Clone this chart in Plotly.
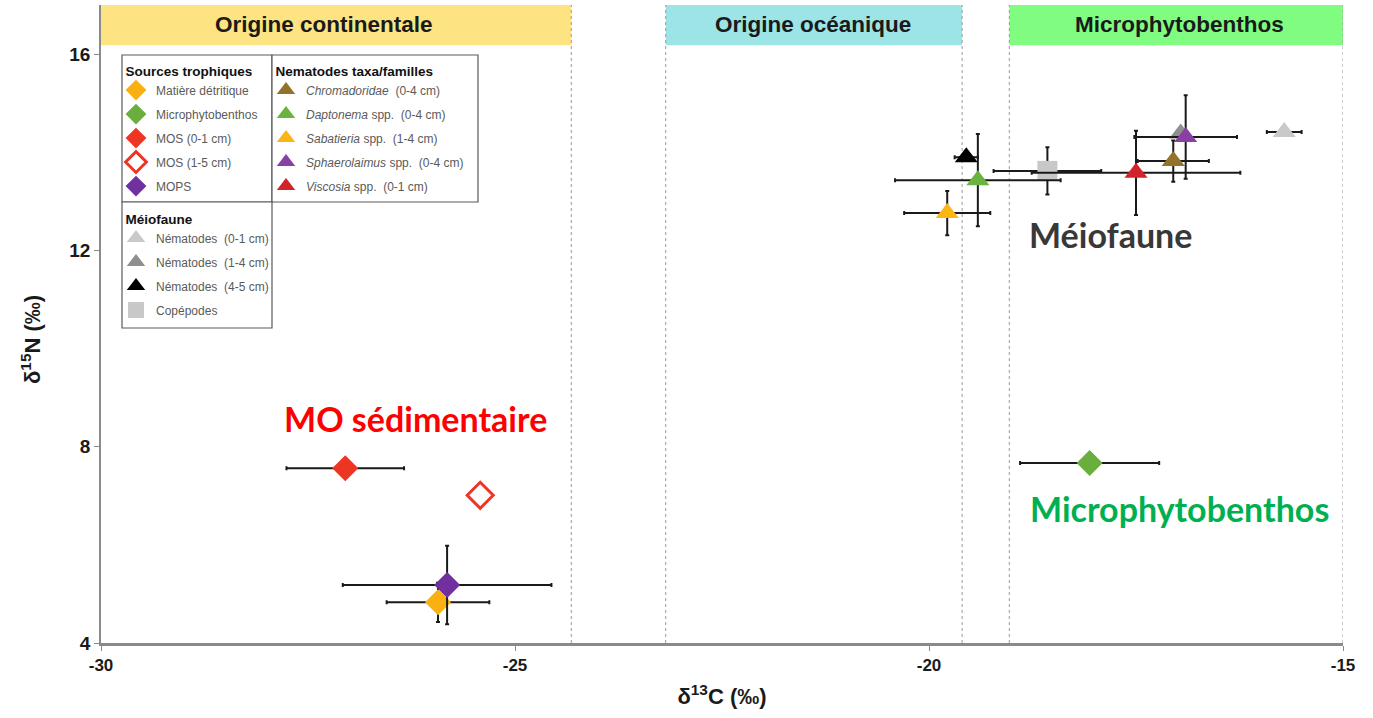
import plotly.graph_objects as go

# ---------------- data ----------------
# Sources trophiques
src_names = ["Matière détritique", "Microphytobenthos", "MOS (0-1 cm)", "MOS (1-5 cm)", "MOPS"]
src_x = [-25.93, -18.06, -27.05, -25.42, -25.82]
src_y = [4.83, 7.67, 7.56, 7.01, 5.18]
src_xerr = [0.62, 0.84, 0.71, 0.0, 1.26]
src_yerr = [0.40, 0.0, 0.0, 0.0, 0.80]
src_colors = ["#F8B110", "#6AAF3D", "#EE3524", "#EE3524", "#7030A0"]
src_symbols = ["diamond", "diamond", "diamond", "diamond-open", "diamond"]

# Méiofaune
mei_names = ["Nématodes  (0-1 cm)", "Nématodes  (1-4 cm)", "Nématodes  (4-5 cm)", "Copépodes"]
mei_x = [-15.71, -16.96, -19.55, -18.57]
mei_y = [14.41, 14.38, 13.90, 13.62]
mei_xerr = [0.21, 0.0, 0.14, 0.65]
mei_yerr = [0.0, 0.0, 0.0, 0.48]
mei_colors = ["#C9C9C9", "#8F8F8F", "#000000", "#C8C8C8"]
mei_symbols = ["triangle-up", "triangle-up", "triangle-up", "square"]

# Nematodes taxa/familles
nem_names = ["<i>Chromadoridae</i>  (0-4 cm)", "<i>Daptonema</i> spp.  (0-4 cm)",
             "<i>Sabatieria</i> spp.  (1-4 cm)", "<i>Sphaerolaimus</i> spp.  (0-4 cm)",
             "<i>Viscosia</i> spp.  (0-1 cm)"]
nem_x = [-17.05, -19.41, -19.78, -16.90, -17.50]
nem_y = [13.82, 13.43, 12.76, 14.31, 13.58]
nem_xerr = [0.43, 1.00, 0.52, 0.62, 1.26]
nem_yerr = [0.42, 0.94, 0.45, 0.85, 0.86]
nem_colors = ["#93722B", "#6BB33F", "#FBB514", "#8A3FA5", "#D2232A"]
nem_symbols = ["triangle-up"] * 5

# zones
zone_names = ["Origine continentale", "Origine océanique", "Microphytobenthos"]
zone_x0 = [-30.0, -23.18, -19.03]
zone_x1 = [-24.32, -19.60, -15.0]
zone_label_x = [-27.31, -21.40, -16.98]
zone_colors = ["#FDE381", "#9CE4E6", "#80FC80"]

x_ticks = [-30, -25, -20, -15]
y_ticks = [4, 8, 12, 16]

# ---------------- figure ----------------
W, H = 1373, 718
ML, MR, MT, MB = 101, 30, 5, 75
PW, PH = W - ML - MR, H - MT - MB


def pxx(px):
    return (px - ML) / PW


def pxy(py):
    return (H - MB - py) / PH


fig = go.Figure()

ERR = dict(color="#1a1a1a", thickness=2, width=2)


def add_group(names, xs, ys, xe, ye, colors, symbols, legend, prefix):
    for i, (n, x, y, ex, ey, c, s) in enumerate(zip(names, xs, ys, xe, ye, colors, symbols)):
        open_ = s.endswith("open")
        fig.add_trace(go.Scatter(
            x=[x], y=[y], mode="markers",
            name=n, legend=legend, legendgroup=f"{prefix}{i}",
            marker=dict(symbol=s, size=20, color=c,
                        line=dict(width=3 if open_ else 0, color=c)),
            error_x=dict(type="data", array=[ex], visible=ex > 0, **ERR),
            error_y=dict(type="data", array=[ey], visible=ey > 0, **ERR),
        ))


add_group(src_names, src_x, src_y, src_xerr, src_yerr, src_colors, src_symbols, "legend", "s")
add_group(mei_names, mei_x, mei_y, mei_xerr, mei_yerr, mei_colors, mei_symbols, "legend3", "m")
add_group(nem_names, nem_x, nem_y, nem_xerr, nem_yerr, nem_colors, nem_symbols, "legend2", "n")

shapes = []
annotations = []
# zone bands
for zn, x0, x1, lx, col in zip(zone_names, zone_x0, zone_x1, zone_label_x, zone_colors):
    shapes.append(dict(type="rect", xref="x", yref="y", x0=x0, x1=x1, y0=16.18, y1=17.0,
                       fillcolor=col, line=dict(width=0), layer="below"))
    annotations.append(dict(x=lx, y=16.6, xref="x", yref="y", text="<b>" + zn + "</b>",
                            showarrow=False, font=dict(family="Arial", size=22.5, color="#1a1a1a")))
# dotted separators
for xv in [zone_x1[0], zone_x0[1], zone_x1[1], zone_x0[2], zone_x1[2]]:
    shapes.append(dict(type="line", xref="x", yref="y", x0=xv, x1=xv, y0=4, y1=17,
                       line=dict(color="#9a9a9a", width=1, dash="dot"), layer="below"))

# legend frames
boxes = [(122, 55, 272, 202), (272, 55, 478, 202), (122, 202, 272, 328)]
for (a, b, c, d) in boxes:
    shapes.append(dict(type="rect", xref="paper", yref="paper",
                       x0=pxx(a), x1=pxx(c), y0=pxy(d), y1=pxy(b),
                       line=dict(color="#5a5a5a", width=1.2), fillcolor="white", layer="below"))

# big labels + y axis title
annotations += [
    dict(x=-26.20, y=8.58, xref="x", yref="y", text="<b>MO sédimentaire</b>", showarrow=False,
         font=dict(family="Lato", size=34, color="#FF0000")),
    dict(x=-17.81, y=12.33, xref="x", yref="y", text="<b>Méiofaune</b>", showarrow=False,
         font=dict(family="Lato", size=34, color="#383838")),
    dict(x=-16.97, y=6.75, xref="x", yref="y", text="<b>Microphytobenthos</b>", showarrow=False,
         font=dict(family="Lato", size=34, color="#00B050")),
    dict(x=pxx(31), y=pxy(340), xref="paper", yref="paper", text="<b>δ<sup>15</sup>N (‰)</b>",
         xanchor="center", yanchor="middle",
         textangle=-90, showarrow=False, font=dict(family="Arial", size=22, color="#1a1a1a")),
]

PAD = "\u00a0\u00a0"
leg_common = dict(xref="paper", yref="paper", xanchor="left", yanchor="top",
                  bgcolor="rgba(0,0,0,0)", borderwidth=0, tracegroupgap=5,
                  font=dict(family="Arial", size=12, color="#5a5a5a"),
                  itemclick=False, itemdoubleclick=False)
title_font = dict(family="Arial", size=13.5, color="#111")

fig.update_layout(
    width=W, height=H,
    margin=dict(l=ML, r=MR, t=MT, b=MB, autoexpand=False),
    paper_bgcolor="white", plot_bgcolor="white",
    shapes=shapes, annotations=annotations,
    legend=dict(x=pxx(116), y=pxy(58),
                title=dict(text=PAD + "<b>Sources trophiques</b>", font=title_font),
                **leg_common),
    legend2=dict(x=pxx(266), y=pxy(58),
                 title=dict(text=PAD + "<b>Nematodes taxa/familles</b>", font=title_font),
                 **leg_common),
    legend3=dict(x=pxx(116), y=pxy(206),
                 title=dict(text=PAD + "<b>Méiofaune</b>", font=title_font),
                 **leg_common),
    xaxis=dict(range=[-30, -15], tickvals=x_ticks, ticktext=[str(v) for v in x_ticks],
               showgrid=False, zeroline=False, showline=True, linecolor="#8a8a8a", linewidth=2.5,
               ticks="outside", ticklen=5, tickcolor="#8a8a8a",
               tickfont=dict(family="Arial", size=17, color="#1a1a1a", weight="bold"),
               title=dict(text="<b>δ<sup>13</sup>C (‰)</b>", standoff=15,
                          font=dict(family="Arial", size=22, color="#1a1a1a"))),
    yaxis=dict(range=[4, 17], tickvals=y_ticks, ticktext=[str(v) for v in y_ticks],
               showgrid=False, zeroline=False, showline=True, linecolor="#8a8a8a", linewidth=1.5,
               ticks="outside", ticklen=5, tickcolor="#8a8a8a",
               tickfont=dict(family="Arial", size=19, color="#1a1a1a", weight="bold")),
)

fig.write_html("out.html")
